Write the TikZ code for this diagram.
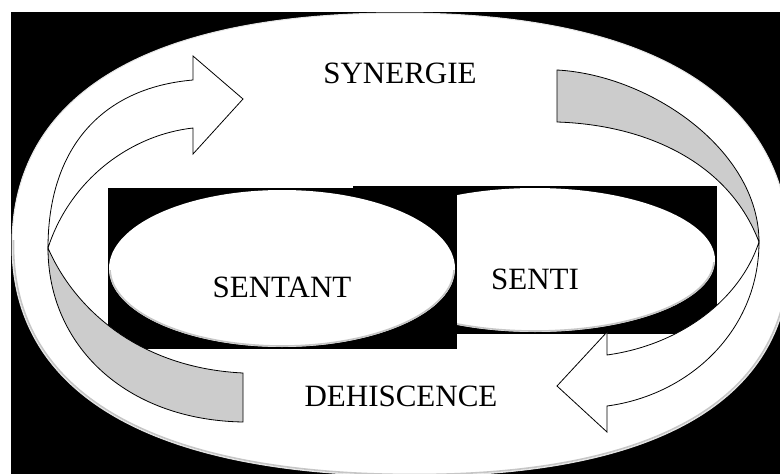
\documentclass[tikz,border=0pt]{standalone}
\usepackage{fontspec}
\setmainfont{Liberation Serif}
\usetikzlibrary{shapes.geometric}
\begin{document}
\begin{tikzpicture}[x=1pt,y=-1pt,
  lbl/.style={anchor=base, inner sep=0pt, font=\fontsize{31}{36}\selectfont},
  innerell/.style={ellipse, fill=white, inner sep=0pt},
  bevel/.style={draw=gray!45, line width=1.6pt},
  blackbox/.style={rectangle, fill=black, inner sep=0pt},
  ribbon/.style={draw=black, line width=0.8pt, line join=miter},
  front/.style={ribbon, fill=white},
  back/.style={ribbon, fill=gray!40}]
\useasboundingbox (0,0) rectangle (780,474);
\fill[white] (0,0) rectangle (780,474);
\begin{scope}
  \clip (11,12) rectangle (780,474);
  \fill[black] (11,12) rectangle (780,474);
  \path[fill=white, draw=gray!20, line width=1pt]
    (12,245) .. controls (12,94) and (148,13) .. (400,13)
    .. controls (653.5,13) and (790,98) .. (790,255)
    .. controls (790,399) and (659,476) .. (415,476)
    .. controls (153,476) and (12,395) .. (12,245) -- cycle;
  \clip (11,240) rectangle (780,474);
  \path[bevel]
    (13.5,245) .. controls (13.5,95) and (149,14.5) .. (400,14.5)
    .. controls (652.5,14.5) and (788.5,99) .. (788.5,255)
    .. controls (788.5,398) and (658,474.5) .. (415,474.5)
    .. controls (154,474.5) and (13.5,394) .. (13.5,245) -- cycle;
\end{scope}
% inner boxes and ellipses
\node[blackbox, minimum width=364pt, minimum height=148pt] (box2) at (535,260) {};
\node[innerell, minimum width=360pt, minimum height=144pt] (senti) at (535,260) {};
\begin{scope}
  \clip (353,262) rectangle (717,334);
  \draw[bevel] (535,260) ellipse [x radius=179pt, y radius=71pt];
\end{scope}
\node[blackbox, minimum width=349pt, minimum height=161pt] (box1) at (282.5,268.5) {};
\node[innerell, minimum width=346pt, minimum height=157pt] (sentant) at (282,268.5) {};
\begin{scope}
  \clip (108,270) rectangle (457,349);
  \draw[bevel] (282,268.5) ellipse [x radius=172pt, y radius=77.5pt];
\end{scope}
% labels
\node[lbl] (synergie) at (400,83) {SYNERGIE};
\node[lbl] (sentanttxt) at (282,297) {SENTANT};
\node[lbl] (sentitxt) at (535,289) {SENTI};
\node[lbl] (dehiscence) at (401,406) {DEHISCENCE};
% left curved arrow (going up)
\path[back] (48,248) .. controls (48,345) and (125,420) .. (243,422)
  -- (243,373) .. controls (140,368) and (75,310) .. (48,248) -- cycle;
\path[front] (193,128) -- (193,154) -- (243,99) -- (193,56) -- (193,80)
  .. controls (100,88) and (48,150) .. (48,248)
  .. controls (70,180) and (130,135) .. (193,128) -- cycle;
% right curved arrow (going down)
\path[back] (557,70) .. controls (650,75) and (759,150) .. (759,242)
  .. controls (730,165) and (650,125) .. (557,122) -- cycle;
\path[front] (759,242) .. controls (759,330) and (690,395) .. (607,406)
  -- (607,432) -- (557,386) -- (607,332) -- (607,355)
  .. controls (680,345) and (740,300) .. (759,242) -- cycle;
\end{tikzpicture}
\end{document}
